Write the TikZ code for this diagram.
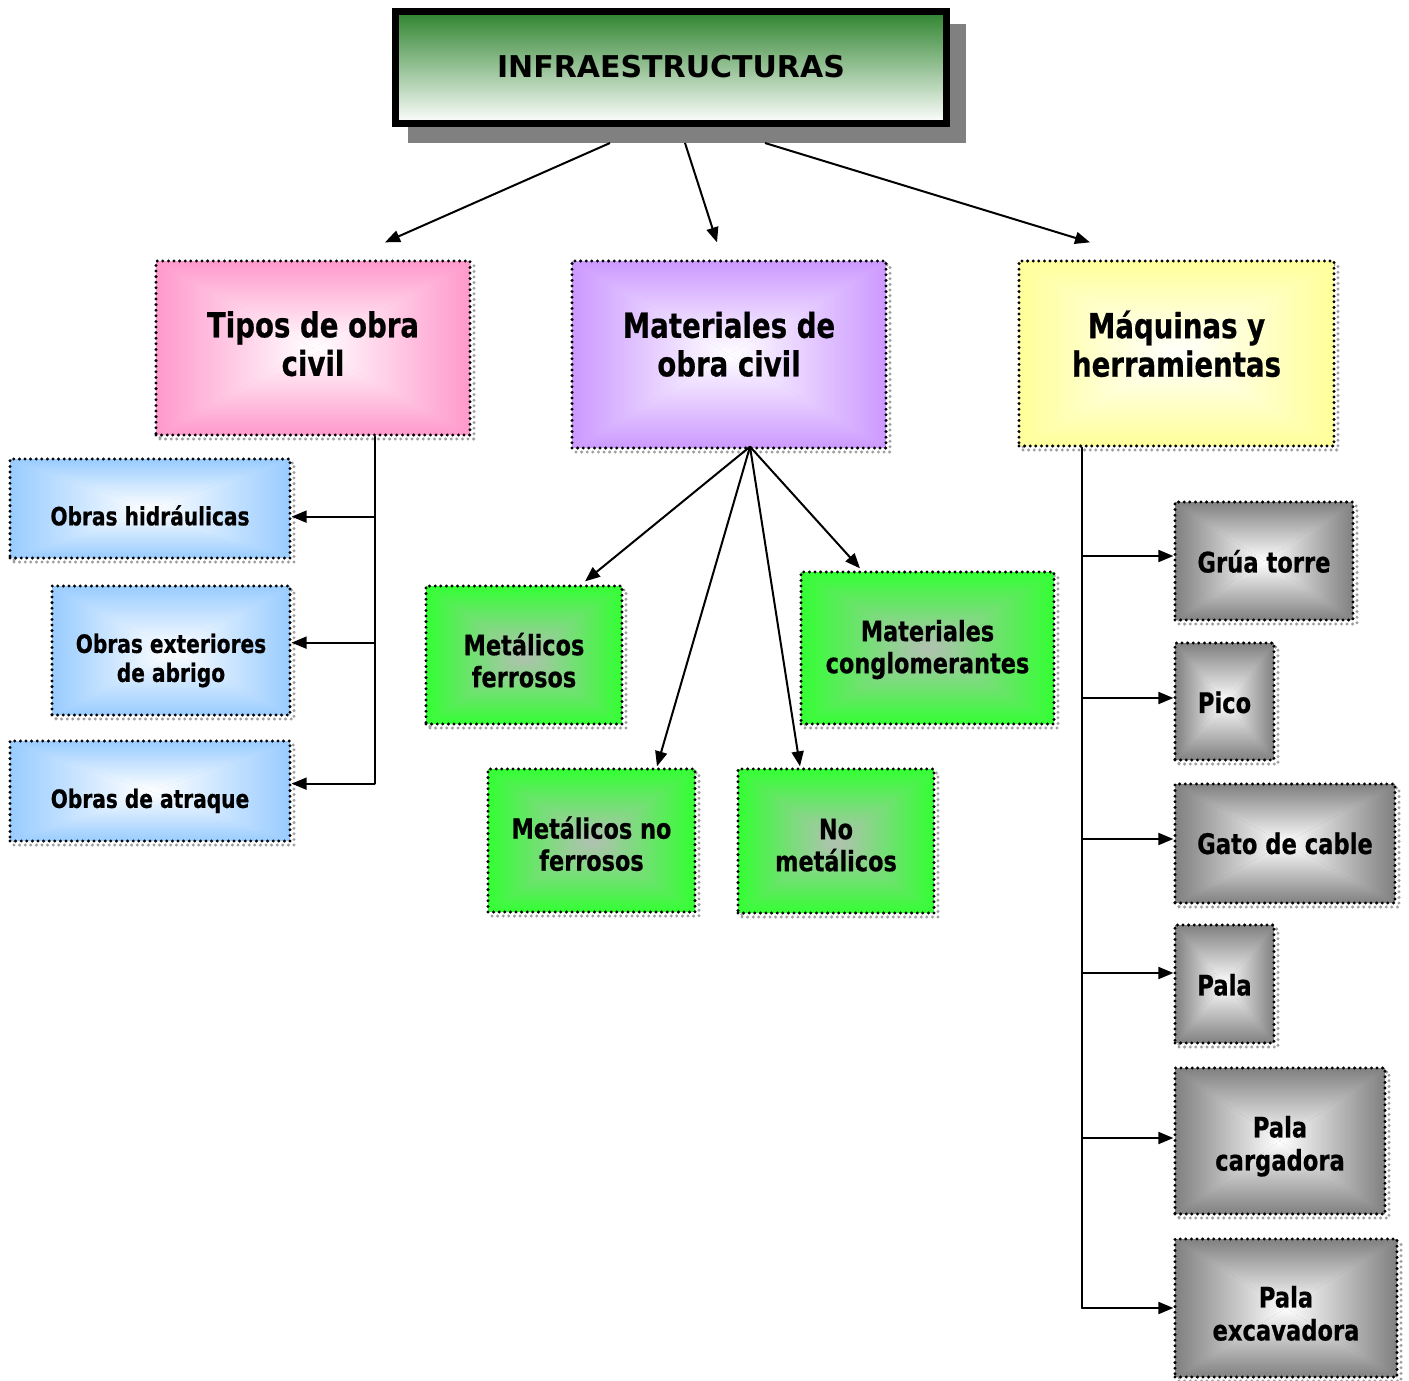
\documentclass[tikz,border=0pt]{standalone}
\usepackage{fontspec}
\setmainfont{DejaVu Sans}[FakeStretch=0.8, BoldFeatures={FakeBold=0.6}]
\newfontfamily\titlefont{DejaVu Sans}
\usetikzlibrary{arrows.meta,calc}
\definecolor{pinkE}{HTML}{FF99CC}
\definecolor{purpE}{HTML}{CC99FF}
\definecolor{yelE}{HTML}{FFFF99}
\definecolor{blueE}{HTML}{99CCFF}
\definecolor{greenE}{HTML}{33FF33}
\definecolor{greenC}{HTML}{B4C0B4}
\definecolor{grayE}{HTML}{808080}
\definecolor{titleG}{HTML}{2E842E}
\definecolor{shadowG}{HTML}{808080}
\newcommand\fszA{\fontsize{34.5}{38.5}\selectfont\bfseries}
\newcommand\fszB{\fontsize{25.2}{29}\selectfont\bfseries}
\newcommand\fszC{\fontsize{28}{32}\selectfont\bfseries}
\newcommand\fszD{\fontsize{28.3}{33}\selectfont\bfseries}
\newcommand\tx[2]{\raisebox{#1}[0pt][0pt]{\begin{tabular}{@{}c@{}}#2\end{tabular}}}
\tikzset{
  rg/.style 2 args={path picture={
    \fill[#1] (path picture bounding box.south west) rectangle (path picture bounding box.north east);
    \shade[top color=#1,bottom color=#2] (path picture bounding box.north west) -- (path picture bounding box.north east) -- (path picture bounding box.center) -- cycle;
    \shade[top color=#2,bottom color=#1] (path picture bounding box.south west) -- (path picture bounding box.south east) -- (path picture bounding box.center) -- cycle;
    \shade[left color=#1,right color=#2] (path picture bounding box.north west) -- (path picture bounding box.south west) -- (path picture bounding box.center) -- cycle;
    \shade[left color=#2,right color=#1] (path picture bounding box.north east) -- (path picture bounding box.south east) -- (path picture bounding box.center) -- cycle;
  }},
  box/.style={draw=black, line width=3.3pt, dash pattern=on 0pt off 5.6pt, line cap=round,
    inner sep=0pt,
    preaction={draw=gray!75, line width=3.3pt, dash pattern=on 0pt off 5.6pt, line cap=round,
      transform canvas={xshift=4pt,yshift=-4pt}}},
  titlebox/.style={draw=black, line width=7pt, inner sep=0pt,
    top color=titleG, middle color=titleG!30!white, bottom color=white,
    preaction={fill=shadowG, draw=shadowG, transform canvas={xshift=16pt,yshift=-16pt}}},
  conn/.style={line width=2pt, line cap=round},
  arr/.style={line width=2pt, -{Triangle[length=15pt,width=12pt]}},
}
\begin{document}
\begin{tikzpicture}[x=1pt,y=-1pt]
\useasboundingbox (0,0) rectangle (1409,1381);
% title
\node[titlebox, minimum width=551pt, minimum height=112pt] (title) at (671,67.5)
  {\raisebox{2pt}{\titlefont\fontsize{30}{36}\selectfont\bfseries INFRAESTRUCTURAS}};
% level 1
\node[box, rg={pinkE}{white}, minimum width=314pt, minimum height=174pt, font=\fszA] (tipos) at (313,348) {\tx{-7.1pt}{Tipos de obra\\civil}};
\node[box, rg={purpE}{white}, minimum width=314pt, minimum height=187pt, font=\fszA] (mat) at (729,354.5) {\tx{-1.1pt}{Materiales de\\obra civil}};
\node[box, rg={yelE}{white}, minimum width=315pt, minimum height=185pt, font=\fszA] (maq) at (1176.5,353.5) {\tx{-2.1pt}{Máquinas y\\herramientas}};
% tipos children
\node[box, rg={blueE}{white}, minimum width=280pt, minimum height=99pt, font=\fszB] (oh) at (150,508.5) {\tx{-17.3pt}{Obras hidráulicas}};
\node[box, rg={blueE}{white}, minimum width=238pt, minimum height=129pt, font=\fszB] (oe) at (171,650.5) {\tx{-17.3pt}{Obras exteriores\\de abrigo}};
\node[box, rg={blueE}{white}, minimum width=280pt, minimum height=100pt, font=\fszB] (oa) at (150,791) {\tx{-17.3pt}{Obras de atraque}};
% materiales children
\node[box, rg={greenE}{greenC}, minimum width=196pt, minimum height=138pt, font=\fszC] (mf) at (524,655) {\tx{-16pt}{Metálicos\\ferrosos}};
\node[box, rg={greenE}{greenC}, minimum width=253pt, minimum height=152pt, font=\fszC] (mc) at (927.5,648) {\tx{-9pt}{Materiales\\conglomerantes}};
\node[box, rg={greenE}{greenC}, minimum width=207pt, minimum height=143pt, font=\fszC] (mnf) at (591.5,840.5) {\tx{-14pt}{Metálicos no\\ferrosos}};
\node[box, rg={greenE}{greenC}, minimum width=196pt, minimum height=144pt, font=\fszC] (nm) at (836,841) {\tx{-14pt}{No\\metálicos}};
% maquinas children
\node[box, rg={grayE}{white}, minimum width=178pt, minimum height=118pt, font=\fszD] (gr) at (1264,561) {\tx{-11.1pt}{Grúa torre}};
\node[box, rg={grayE}{white}, minimum width=99pt, minimum height=117pt, font=\fszD] (pi) at (1224.5,701.5) {\tx{-11.1pt}{Pico}};
\node[box, rg={grayE}{white}, minimum width=220pt, minimum height=119pt, font=\fszD] (ga) at (1285,843.5) {\tx{-10.1pt}{Gato de cable}};
\node[box, rg={grayE}{white}, minimum width=99pt, minimum height=118pt, font=\fszD] (pa) at (1224.5,984) {\tx{-11.1pt}{Pala}};
\node[box, rg={grayE}{white}, minimum width=210pt, minimum height=146pt, font=\fszD] (pc) at (1280,1141) {\tx{-12.6pt}{Pala\\cargadora}};
\node[box, rg={grayE}{white}, minimum width=222pt, minimum height=138pt, font=\fszD] (pe) at (1286,1308) {\tx{-15.6pt}{Pala\\excavadora}};
% title arrows
\coordinate (t1) at ($(title.south)+(-61,16)$);
\coordinate (t2) at ($(title.south)+(14,16)$);
\coordinate (t3) at ($(title.south)+(94,16)$);
\draw[arr] (t1) -- ($(tipos.north)+(72,-17)$);
\draw[arr] (t2) -- ($(mat.north)+(-12,-17)$);
\draw[arr] (t3) -- ($(maq.north)+(-86.5,-17)$);
% tipos tree
\coordinate (tp) at ($(tipos.south)+(62,0)$);
\coordinate (tb1) at ($(tp)+(0,80)$);
\coordinate (tb2) at ($(tp)+(0,206)$);
\coordinate (tb3) at ($(tp)+(0,347)$);
\draw[conn] (tp) -- (tb3);
\draw[arr] (tb1) -- (tb1 -| oh.east);
\draw[arr] (tb2) -- (tb2 -| oe.east);
\draw[arr] (tb3) -- (tb3 -| oa.east);
% materiales fan
\coordinate (m0) at ($(mat.south)+(21,-3)$);
\draw[arr] (m0) -- ($(mf.north)+(61,-3)$);
\draw[arr] (m0) -- ($(mnf.north)+(65.5,-1)$);
\draw[arr] (m0) -- ($(nm.north)+(-36,-1)$);
\draw[arr] (m0) -- ($(mc.north)+(-67.5,-2)$);
% maquinas tree
\coordinate (mq) at ($(maq.south)+(-94.5,0)$);
\coordinate (mb1) at (1082,556);
\coordinate (mb2) at (1082,698);
\coordinate (mb3) at (1082,839);
\coordinate (mb4) at (1082,973);
\coordinate (mb5) at (1082,1138);
\coordinate (mb6) at (1082,1308);
\draw[conn] (mq) -- (mb6);
\draw[arr] (mb1) -- (mb1 -| gr.west);
\draw[arr] (mb2) -- (mb2 -| pi.west);
\draw[arr] (mb3) -- (mb3 -| ga.west);
\draw[arr] (mb4) -- (mb4 -| pa.west);
\draw[arr] (mb5) -- (mb5 -| pc.west);
\draw[arr] (mb6) -- (mb6 -| pe.west);
\end{tikzpicture}
\end{document}
